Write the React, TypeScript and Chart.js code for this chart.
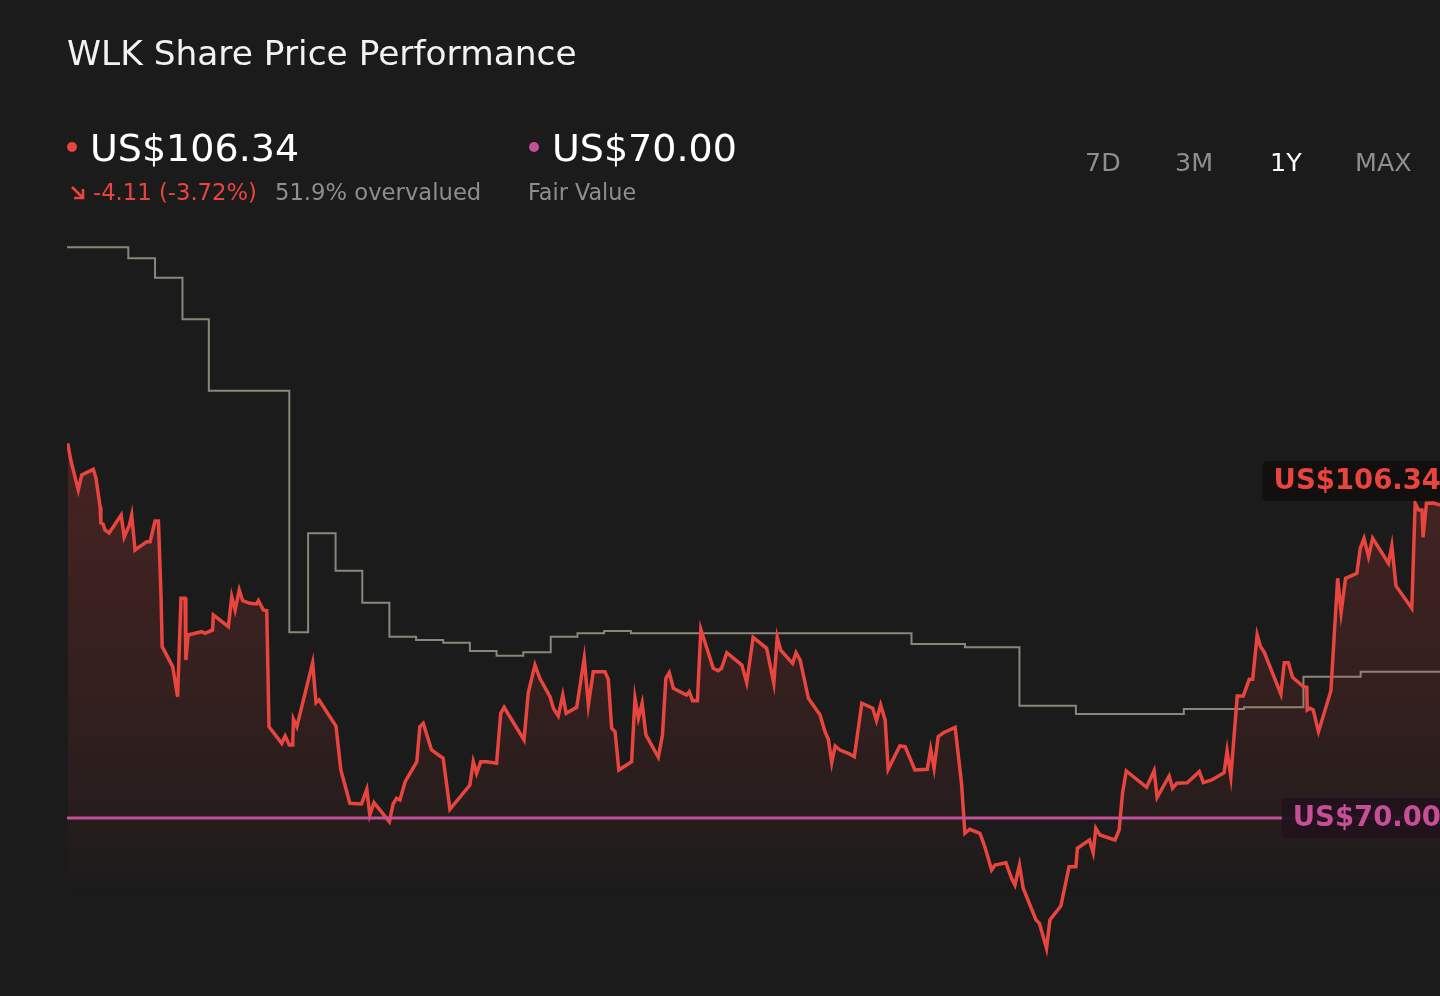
import React, { useEffect, useRef } from "react";
import { Chart, registerables } from "chart.js";

Chart.register(...registerables);

// ---- Data (days since start of the 1Y window) ----
const days = [0.2,1.0,3.0,3.9,7.0,7.7,8.8,9.0,9.6,10.1,
11.2,14.4,15.2,16.6,17.2,18.1,21.2,22.1,23.4,24.3,
25.0,25.3,28.1,29.4,30.3,31.4,31.6,32.2,35.8,36.7,
38.7,38.9,42.9,43.8,44.7,45.8,46.7,48.6,50.4,50.9,
52.2,53.1,53.7,57.1,58.0,59.1,60.0,60.2,61.1,65.3,
66.2,67.0,71.5,72.8,75.2,78.3,79.7,80.5,81.6,85.7,
86.7,87.6,88.5,89.9,93.0,93.8,94.7,96.9,100.0,101.8,
107.1,108.0,108.9,110.0,111.6,114.2,115.3,116.2,121.5,122.6,
124.4,125.7,128.4,129.3,130.6,131.8,132.7,135.5,137.5,138.6,
139.9,143.0,143.9,144.8,145.7,146.7,150.1,151.0,151.9,152.9,
153.9,157.2,158.3,159.2,160.1,161.2,164.7,165.4,166.3,167.6,
168.5,171.8,173.1,174.0,175.4,179.4,180.7,182.4,186.0,187.9,
188.8,189.7,192.9,193.8,194.9,197.1,200.2,201.5,202.4,203.3,
204.2,205.5,207.7,209.3,211.3,214.2,215.2,216.3,217.5,218.3,
221.4,222.8,225.4,228.7,229.6,230.5,231.6,233.0,236.1,237.8,
238.7,240.0,242.7,244.0,245.8,246.7,249.6,251.1,252.0,253.2,
254.2,257.6,258.5,260.4,261.3,264.2,266.4,268.2,268.6,271.8,
272.8,273.5,274.6,278.6,279.7,280.6,281.6,287.0,289.0,289.8,
293.0,293.9,295.0,297.8,301.0,302.1,304.3,307.6,308.4,309.4,
311.1,312.7,314.3,315.2,316.4,317.3,318.2,322.7,323.6,324.7,
325.8,328.7,329.6,329.7,330.5,331.3,332.7,336.0,337.8,338.7,
339.9,342.9,343.8,344.8,346.0,347.1,351.3,352.2,353.3,357.5,
358.4,359.3,360.2,360.5,361.4,363.3,365.0];

const prices = [113.50,111.56,108.08,109.82,110.48,109.47,106.14,104.25,104.13,103.44,
103.09,105.18,102.62,104.02,105.18,101.11,102.08,102.08,104.48,104.48,
95.69,89.89,87.57,84.08,95.51,95.51,88.34,91.25,91.63,91.44,
91.83,93.57,92.21,95.69,94.15,96.47,95.23,94.93,94.85,95.23,
94.15,94.07,80.60,78.67,79.52,78.48,78.48,81.46,80.60,88.03,
83.39,83.70,80.68,75.57,71.71,71.63,73.33,70.35,71.78,69.57,
71.63,72.29,72.09,74.21,76.54,80.60,80.99,77.89,76.93,71.01,
73.83,76.54,75.19,76.54,76.54,76.35,82.16,82.85,79.06,84.48,
87.76,86.22,84.08,82.74,81.84,84.28,82.16,82.85,88.54,83.12,
86.99,86.99,86.10,80.41,80.02,75.57,76.54,83.90,81.58,83.32,
79.64,77.05,79.64,86.22,86.87,85.06,84.28,84.66,83.62,83.62,
91.91,87.38,87.10,87.38,89.19,87.76,85.71,90.98,89.70,85.64,
90.98,89.50,87.96,89.19,88.34,83.90,81.96,80.02,79.14,76.42,
78.36,77.89,77.51,77.12,83.32,82.74,81.30,83.12,81.38,75.65,
78.36,78.28,75.57,75.65,77.98,75.77,79.44,79.90,80.53,74.03,
68.22,68.69,68.22,66.67,63.96,64.54,64.81,63.00,62.22,64.54,
61.84,58.16,57.77,54.87,58.16,59.78,64.35,64.35,66.48,67.45,
65.97,68.80,68.03,67.45,68.61,72.87,75.46,73.56,75.49,72.40,
74.88,73.45,74.03,74.10,75.38,74.10,74.41,75.26,77.81,74.79,
84.16,84.16,86.10,86.10,91.25,89.89,89.31,84.40,88.03,88.03,
86.34,85.24,85.17,82.54,82.74,82.54,80.02,84.78,97.83,93.84,
97.83,98.41,101.31,102.47,100.34,102.47,99.57,101.61,96.94,94.35,
106.54,105.76,105.76,102.59,106.54,106.57,106.34];

// Stepped gray series: each entry is the day a new level starts
const targetDays = [0,16.3,23.4,30.7,37.7,59.1,64.1,71.4,78.5,85.7,92.8,100.0,107.1,114.2,121.3,128.6,135.7,142.8,149.9,224.5,238.7,253.2,268.2,296.9,312.9,328.7,343.9,365];
const targetValues = [136.26,134.98,132.73,127.90,119.61,91.56,103.05,98.71,95.00,91.05,90.67,90.35,89.39,88.84,89.24,91.05,91.44,91.71,91.44,90.20,89.82,83.04,82.07,82.66,82.85,86.41,86.99,86.99];

const fairValueDays = [0, 365];
const fairValue = 70.0;
const lastPrice = 106.34;
const change = -4.11;
const changePct = -3.72;
const overvaluedPct = 51.9;
const ranges = ["7D", "3M", "1Y", "MAX"];
const rangeX = [1085, 1175, 1270, 1355];

const RED = "#e8453f";
const PINK = "#c64f98";
const GRAY_LINE = "#8a8679";
const BG = "#1b1b1b";
const FONT = '"DejaVu Sans", Verdana, sans-serif';

function roundRect(ctx: CanvasRenderingContext2D, x: number, y: number, w: number, h: number, r: number) {
  ctx.beginPath();
  ctx.moveTo(x + r, y);
  ctx.lineTo(x + w - r, y);
  ctx.quadraticCurveTo(x + w, y, x + w, y + r);
  ctx.lineTo(x + w, y + h - r);
  ctx.quadraticCurveTo(x + w, y + h, x + w - r, y + h);
  ctx.lineTo(x + r, y + h);
  ctx.quadraticCurveTo(x, y + h, x, y + h - r);
  ctx.lineTo(x, y + r);
  ctx.quadraticCurveTo(x, y, x + r, y);
  ctx.closePath();
}

const labelPlugin = {
  id: "valueLabels",
  afterDatasetsDraw(chart: any) {
    const { ctx, scales, chartArea } = chart;
    const y = scales.y;
    ctx.save();
    ctx.font = `bold 27.5px ${FONT}`;
    const draw = (text: string, cy: number, color: string, bg: string) => {
      const w = ctx.measureText(text).width;
      const right = chartArea.right + 12;
      const left = right - w - 22;
      ctx.fillStyle = bg;
      roundRect(ctx, left, cy - 20, w + 22, 40, 5);
      ctx.fill();
      ctx.fillStyle = color;
      ctx.textAlign = "left";
      ctx.textBaseline = "middle";
      ctx.fillText(text, left + 11, cy + 1);
    };
    draw(`US$${lastPrice.toFixed(2)}`, y.getPixelForValue(lastPrice) - 24, RED, "rgba(18,14,14,0.92)");
    draw(`US$${fairValue.toFixed(2)}`, y.getPixelForValue(fairValue), PINK, "rgba(34,18,28,0.95)");
    ctx.restore();
  },
};

function text(
  content: React.ReactNode,
  left: number,
  baseline: number,
  size: number,
  color: string,
  extra: React.CSSProperties = {}
) {
  return (
    <div
      style={{
        position: "absolute",
        left,
        top: baseline - 0.846 * size,
        fontSize: size,
        lineHeight: `${size}px`,
        color,
        whiteSpace: "nowrap",
        fontFamily: FONT,
        ...extra,
      }}
    >
      {content}
    </div>
  );
}

export default function App() {
  const canvasRef = useRef<HTMLCanvasElement | null>(null);

  useEffect(() => {
    if (!canvasRef.current) return;
    const chart = new Chart(canvasRef.current, {
      type: "line",
      data: {
        datasets: [
          {
            label: "Fair Value",
            data: fairValueDays.map((d) => ({ x: d, y: fairValue })),
            borderColor: PINK,
            borderWidth: 3,
            pointRadius: 0,
            fill: false,
            order: 0,
          },
          {
            label: "Share Price",
            data: days.map((d, i) => ({ x: d, y: prices[i] })),
            borderColor: RED,
            borderWidth: 3.5,
            pointRadius: 0,
            tension: 0,
            borderJoinStyle: "miter",
            fill: "start",
            backgroundColor: (c: any) => {
              const ch = c.chart;
              const area = ch.chartArea;
              if (!area) return "rgba(0,0,0,0)";
              const ys = ch.scales.y;
              const g = ch.ctx.createLinearGradient(0, ys.getPixelForValue(115), 0, ys.getPixelForValue(61));
              g.addColorStop(0, "rgba(232,69,63,0.22)");
              g.addColorStop(0.55, "rgba(232,69,63,0.12)");
              g.addColorStop(0.8, "rgba(232,69,63,0.065)");
              g.addColorStop(1, "rgba(232,69,63,0)");
              return g;
            },
            order: 1,
          },
          {
            label: "Target",
            data: targetDays.map((d, i) => ({ x: d, y: targetValues[i] })),
            borderColor: GRAY_LINE,
            borderWidth: 2,
            pointRadius: 0,
            stepped: "before",
            fill: false,
            order: 2,
          },
        ],
      },
      options: {
        animation: false,
        responsive: false,
        devicePixelRatio: 1,
        layout: { padding: { left: 67, right: 0, top: 220, bottom: 16 } },
        scales: {
          x: { type: "linear", min: 0, max: 365, display: false },
          y: { type: "linear", min: 51.19, max: 139.43, display: false },
        },
        plugins: {
          legend: { display: false },
          tooltip: { enabled: false },
        },
      } as any,
      plugins: [labelPlugin],
    } as any);
    return () => chart.destroy();
  }, []);

  return (
    <div
      style={{
        position: "fixed",
        left: 0,
        top: 0,
        width: 1440,
        height: 996,
        background: BG,
        overflow: "hidden",
        fontFamily: FONT,
      }}
    >
      <canvas
        ref={canvasRef}
        width={1440}
        height={996}
        style={{ position: "absolute", left: 0, top: 0, width: 1440, height: 996 }}
      />
      {text("WLK Share Price Performance", 67, 65, 34.4, "#f2f2f2")}
      <div style={{ position: "absolute", left: 67, top: 142, width: 10, height: 10, borderRadius: 5, background: RED }} />
      {text(`US$${lastPrice.toFixed(2)}`, 90, 161, 38, "#ffffff")}
      <div style={{ position: "absolute", left: 529, top: 142, width: 10, height: 10, borderRadius: 5, background: PINK }} />
      {text(`US$${fairValue.toFixed(2)}`, 552, 161, 38, "#ffffff")}
      <svg
        width={18}
        height={18}
        style={{ position: "absolute", left: 69, top: 184 }}
        viewBox="0 0 18 18"
      >
        <polyline points="3,3 14,14" stroke={RED} strokeWidth={2.6} fill="none" />
        <polyline points="14,5 14,14 5,14" stroke={RED} strokeWidth={2.6} fill="none" />
      </svg>
      {text(`${change.toFixed(2)} (${changePct.toFixed(2)}%)`, 93, 200, 22.7, RED)}
      {text(`${overvaluedPct}% overvalued`, 275, 200, 22.7, "#8e8e8e")}
      {text("Fair Value", 528, 200, 22.3, "#8e8e8e")}
      {ranges.map((r, i) => (
        <React.Fragment key={r}>{text(r, rangeX[i], 171, 25.4, r === "1Y" ? "#ffffff" : "#8e8e8e")}</React.Fragment>
      ))}
    </div>
  );
}
